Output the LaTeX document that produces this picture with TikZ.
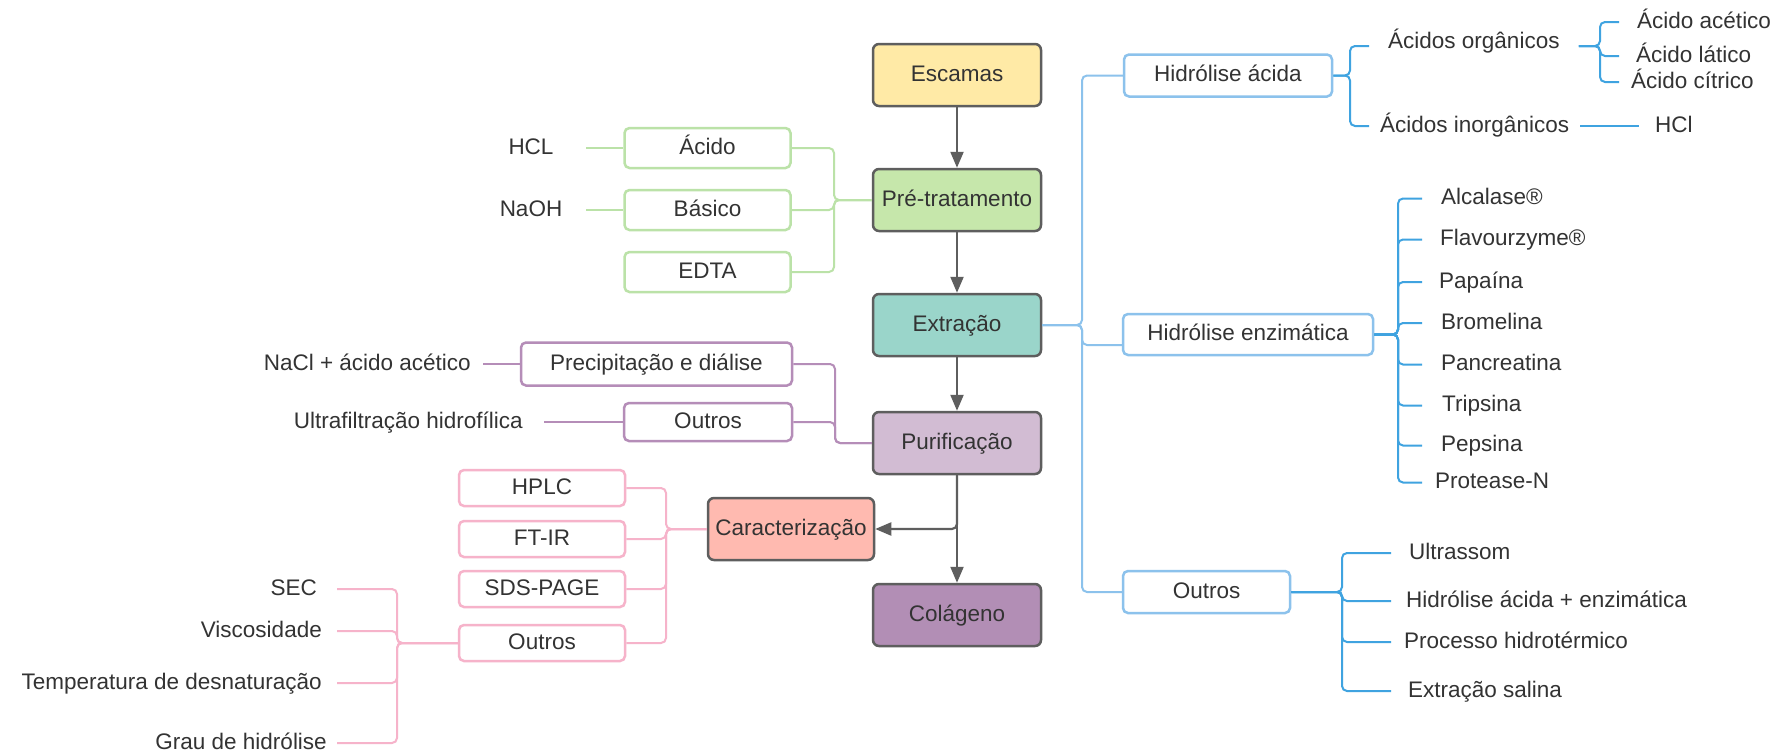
\documentclass[tikz,border=0pt]{standalone}
\usepackage{fontspec}
\setmainfont{Liberation Sans}
\usetikzlibrary{arrows.meta}

\definecolor{txtgray}{HTML}{333333}
\definecolor{mainline}{HTML}{5E5E5E}
\definecolor{escfill}{HTML}{FFEAA6}
\definecolor{prefill}{HTML}{C6E7AB}
\definecolor{extfill}{HTML}{9AD5CA}
\definecolor{purfill}{HTML}{D2BCD3}
\definecolor{carfill}{HTML}{FFBAB0}
\definecolor{colfill}{HTML}{B28EB5}
\definecolor{greenline}{HTML}{BBE2A8}
\definecolor{purpline}{HTML}{B58DB8}
\definecolor{pinkline}{HTML}{F6B3CA}
\definecolor{blueline}{HTML}{8CC2EC}
\definecolor{bluedark}{HTML}{3FA3E0}

\begin{document}
\begin{tikzpicture}[x=1pt, y=-1pt,
  every node/.style={font=\fontsize{22.5}{27}\selectfont, text=txtgray, text height=16pt, text depth=4pt},
  mainbox/.style={rectangle, rounded corners=6pt, draw=mainline, line width=2.5pt, minimum width=168pt, minimum height=62pt, inner sep=0pt},
  subbox/.style={rectangle, rounded corners=5pt, draw=#1, line width=2.5pt, fill=white, minimum width=166pt, minimum height=40pt, inner sep=0pt},
  lbl/.style={inner ysep=0pt},
  flow/.style={draw=mainline, line width=2.2pt, -{Triangle[length=16pt,width=13pt]}},
  link/.style={draw=#1, line width=2pt, rounded corners=5pt}]
  \fill[white] (0,0) rectangle (1787,755);
  \useasboundingbox (0,0) rectangle (1787,755);

  % main flow
  \node[mainbox, fill=escfill] (escamas) at (957,75) {Escamas};
  \node[mainbox, fill=prefill] (pretrat) at (957,200) {Pré-tratamento};
  \node[mainbox, fill=extfill] (extracao) at (957,325) {Extração};
  \node[mainbox, fill=purfill] (purif) at (957,443) {Purificação};
  \node[mainbox, fill=carfill, minimum width=166pt] (caract) at (791,529) {Caracterização};
  \node[mainbox, fill=colfill] (colageno) at (957,615) {Colágeno};
  \draw[flow] (escamas) -- (pretrat);
  \draw[flow] (pretrat) -- (extracao);
  \draw[flow] (extracao) -- (purif);
  \draw[flow] (purif) -- (colageno);
  \draw[flow, rounded corners=5pt] (purif.south) |- (caract.east);

  % pre-tratamento
  \node[subbox=greenline] (acido) at (707.5,148) {Ácido};
  \node[subbox=greenline] (basico) at (707.5,210) {Básico};
  \node[subbox=greenline] (edta) at (707.5,272) {EDTA};
  \node[lbl, minimum width=110pt] (hcl) at (531,148) {HCL};
  \node[lbl, minimum width=110pt] (naoh) at (531,210) {NaOH};
  \draw[link=greenline] (hcl) -- (acido);
  \draw[link=greenline] (naoh) -- (basico);
  \foreach \n in {acido,basico,edta}
    \draw[link=greenline] (\n.east) -| (834,200) -- (pretrat.west);

  % purificacao
  \node[subbox=purpline, minimum width=271pt, minimum height=43pt] (precip) at (656.5,364) {Precipitação e diálise};
  \node[subbox=purpline, minimum width=168pt, minimum height=38pt] (outpur) at (708,422) {Outros};
  \node[lbl, anchor=east, inner xsep=12pt] (nacl) at (483,364) {NaCl + ácido acético};
  \node[lbl, anchor=east, inner xsep=21pt] (ultraf) at (544,422) {Ultrafiltração hidrofílica};
  \draw[link=purpline] (nacl) -- (precip);
  \draw[link=purpline] (ultraf) -- (outpur);
  \foreach \n in {precip,outpur}
    \draw[link=purpline] (\n.east) -| (835,443) -- (purif.west);

  % caracterizacao
  \node[subbox=pinkline, minimum height=36pt] (hplc) at (542,488) {HPLC};
  \node[subbox=pinkline, minimum height=36pt] (ftir) at (542,539) {FT-IR};
  \node[subbox=pinkline, minimum height=36pt] (sds) at (542,589) {SDS-PAGE};
  \node[subbox=pinkline, minimum height=36pt] (outcar) at (542,643) {Outros};
  \foreach \n in {hplc,ftir,sds,outcar}
    \draw[link=pinkline] (\n.east) -| (666,529) -- (caract.west);
  \node[lbl, anchor=east, inner xsep=20pt] (sec) at (337,589) {SEC};
  \node[lbl, anchor=east, inner xsep=15pt] (visc) at (337,631) {Viscosidade};
  \node[lbl, anchor=east, inner xsep=15pt] (temp) at (337,683) {Temperatura de desnaturação};
  \node[lbl, anchor=east, inner xsep=10pt] (grau) at (337,743) {Grau de hidrólise};
  \foreach \n in {sec,visc,temp,grau}
    \draw[link=pinkline] (\n.east) -| (397,643) -- (outcar.west);

  % extracao
  \node[subbox=blueline, minimum width=208pt, minimum height=42pt] (hacida) at (1228,75.5) {Hidrólise ácida};
  \node[subbox=blueline, minimum width=250pt, minimum height=41pt] (henz) at (1248,334.5) {Hidrólise enzimática};
  \node[subbox=blueline, minimum width=167pt, minimum height=42pt] (outext) at (1206.5,592) {Outros};
  \draw[link=blueline] (extracao.east) -| (1082,75.5) -- (hacida.west);
  \draw[link=blueline] (extracao.east) -| (1082,345) -- ([yshift=-10.5pt]henz.west);
  \draw[link=blueline] (extracao.east) -| (1082,592) -- (outext.west);

  % hidrolise acida
  \node[lbl, anchor=west, inner xsep=19pt, text depth=11pt] (acorg) at (1369,46) {Ácidos orgânicos};
  \node[lbl, anchor=west, inner xsep=11pt] (acinorg) at (1369,126) {Ácidos inorgânicos};
  \foreach \n in {acorg,acinorg}
    \draw[link=bluedark] (hacida.east) -| ([xshift=-19pt]\n.west) -- (\n.west);
  \node[lbl, anchor=west, inner xsep=18pt] (acacet) at (1619,22) {Ácido acético};
  \node[lbl, anchor=west, inner xsep=17pt] (aclat) at (1619,56) {Ácido lático};
  \node[lbl, anchor=west, inner xsep=12pt] (accit) at (1619,82) {Ácido cítrico};
  \foreach \n in {acacet,aclat,accit}
    \draw[link=bluedark] (acorg.east) -| ([xshift=-19pt]\n.west) -- (\n.west);
  \node[lbl, anchor=west, inner xsep=16pt] (hclb) at (1639,126) {HCl};
  \draw[link=bluedark] (acinorg) -- (hclb);

  % hidrolise enzimatica
  \foreach \t/\y/\s [count=\i] in {Alcalase®/198.5/19, Flavourzyme®/239.5/18, Papaína/282/17,
      Bromelina/323/19, Pancreatina/364.5/19, Tripsina/405.5/20, Pepsina/445.5/19, Protease-N/482.5/13}
    \node[lbl, anchor=west, inner xsep=\s pt] (enz\i) at (1422,\y) {\t};
  \foreach \i in {1,...,8}
    \draw[link=bluedark] (henz.east) -| ([xshift=-24pt]enz\i.west) -- (enz\i.west);

  % outros metodos
  \foreach \t/\y/\s [count=\i] in {Ultrassom/553/18, Hidrólise ácida + enzimática/601/15,
      Processo hidrotérmico/642/13, Extração salina/691/17}
    \node[lbl, anchor=west, inner xsep=\s pt] (met\i) at (1391,\y) {\t};
  \foreach \i in {1,...,4}
    \draw[link=bluedark] (outext.east) -| ([xshift=-49pt]met\i.west) -- (met\i.west);
\end{tikzpicture}
\end{document}
